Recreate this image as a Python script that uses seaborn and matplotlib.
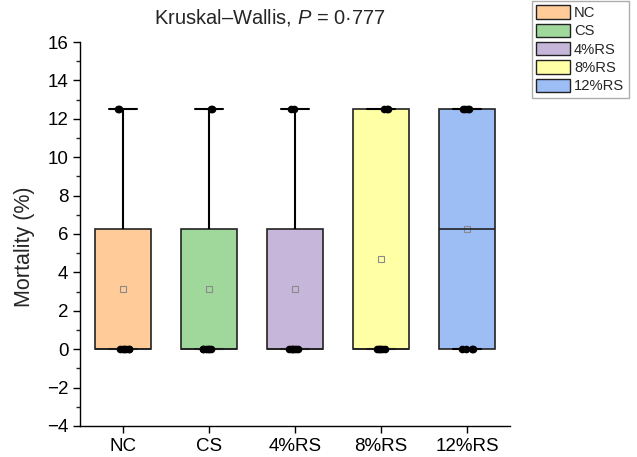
import numpy as np
import pandas as pd
import matplotlib
matplotlib.use("Agg")
import matplotlib.pyplot as plt
import seaborn as sns
from matplotlib.patches import Patch
from matplotlib.ticker import MultipleLocator

# Mortality (%) per replicate
groups = ["NC", "CS", "4%RS", "8%RS", "12%RS"]
nc = [0, 0, 0, 0, 0, 0, 12.5, 12.5]
cs = [0, 0, 0, 0, 0, 0, 12.5, 12.5]
rs4 = [0, 0, 0, 0, 0, 0, 12.5, 12.5]
rs8 = [0, 0, 0, 0, 0, 12.5, 12.5, 12.5]
rs12 = [0, 0, 0, 0, 12.5, 12.5, 12.5, 12.5]
colors = ["#FFCC99", "#A0D89C", "#C6B6D9", "#FFFFA6", "#9DBDF5"]
title = "Kruskal\u2013Wallis, $P$ = 0\u00b7777"

values = [nc, cs, rs4, rs8, rs12]
raw = pd.DataFrame({"group": np.repeat(groups, [len(v) for v in values]),
                    "value": np.concatenate(values)})

# Origin style box: Tukey hinges instead of numpy percentiles
def five_num(v):
    v = np.sort(np.asarray(v, dtype=float))
    n = len(v)
    half = (n + 1) // 2
    return [v[0], np.median(v[:half]), np.median(v), np.median(v[n - half:]), v[-1]]

stats = [five_num(v) for v in values]
summ = pd.DataFrame([(g, s) for g, st in zip(groups, stats) for s in st],
                    columns=["group", "value"])
means = raw.groupby("group", sort=False)["value"].mean().reset_index()

sns.set_style("ticks")
plt.rcParams["font.family"] = ["Liberation Sans", "DejaVu Sans"]
plt.rcParams["mathtext.fontset"] = "custom"
plt.rcParams["mathtext.it"] = "Liberation Sans:italic"
plt.rcParams["mathtext.rm"] = "Liberation Sans"

fig = plt.figure(figsize=(6.37, 4.57), dpi=100)
ax = fig.add_axes([0.126, 0.068, 0.675, 0.84])

sns.boxplot(data=summ, x="group", y="value", hue="group", palette=colors,
            order=groups, hue_order=groups, whis=(0, 100), width=0.65,
            saturation=1, legend=False, ax=ax, linecolor="#222222", linewidth=1.2,
            capwidths=0.33,
            boxprops=dict(edgecolor="#222222"),
            whiskerprops=dict(color="black", linewidth=1.5),
            capprops=dict(color="black", linewidth=1.5),
            medianprops=dict(color="#222222", linewidth=1.2))

np.random.seed(3)
sns.stripplot(data=raw, x="group", y="value", order=groups, color="black",
              size=5.5, jitter=0.08, ax=ax, zorder=5)
sns.pointplot(data=means, x="group", y="value", order=groups, linestyle="none",
              marker="s", markersize=4, markerfacecolor="none",
              markeredgecolor="#8a8a8a", markeredgewidth=0.8, color="#8a8a8a",
              errorbar=None, ax=ax)

ax.set_ylim(-4, 16)
ax.set_xlim(-0.5, 4.5)
ax.yaxis.set_major_locator(MultipleLocator(2))
ax.yaxis.set_minor_locator(MultipleLocator(1))
ax.set_yticklabels([f"{t:g}".replace("-", "\u2212") for t in ax.get_yticks()])
ax.tick_params(axis="both", labelsize=13.5, direction="out", length=5, width=1, colors="black")
ax.tick_params(axis="y", which="minor", length=3, width=1)
ax.set_xlabel("")
ax.set_ylabel("Mortality (%)", fontsize=15.5)
ax.yaxis.set_label_coords(-0.105, 0.466)
for s in ["top", "right"]:
    ax.spines[s].set_visible(False)
for s in ["left", "bottom"]:
    ax.spines[s].set_color("black")
    ax.spines[s].set_linewidth(1)

fig.text(270 / 637, 1 - 18 / 457, title, ha="center", va="center", fontsize=14.5)

handles = [Patch(facecolor=c, edgecolor="#222222", linewidth=1) for c in colors]
fig.legend(handles, groups, loc="upper left", bbox_to_anchor=(532 / 637, 1 - 1 / 457),
           fontsize=10.6, frameon=True, fancybox=False, edgecolor="#999999",
           handlelength=2.25, handleheight=1.0, handletextpad=0.3,
           labelspacing=0.25, borderpad=0.3, borderaxespad=0)

fig.savefig("out.png", dpi=100)
